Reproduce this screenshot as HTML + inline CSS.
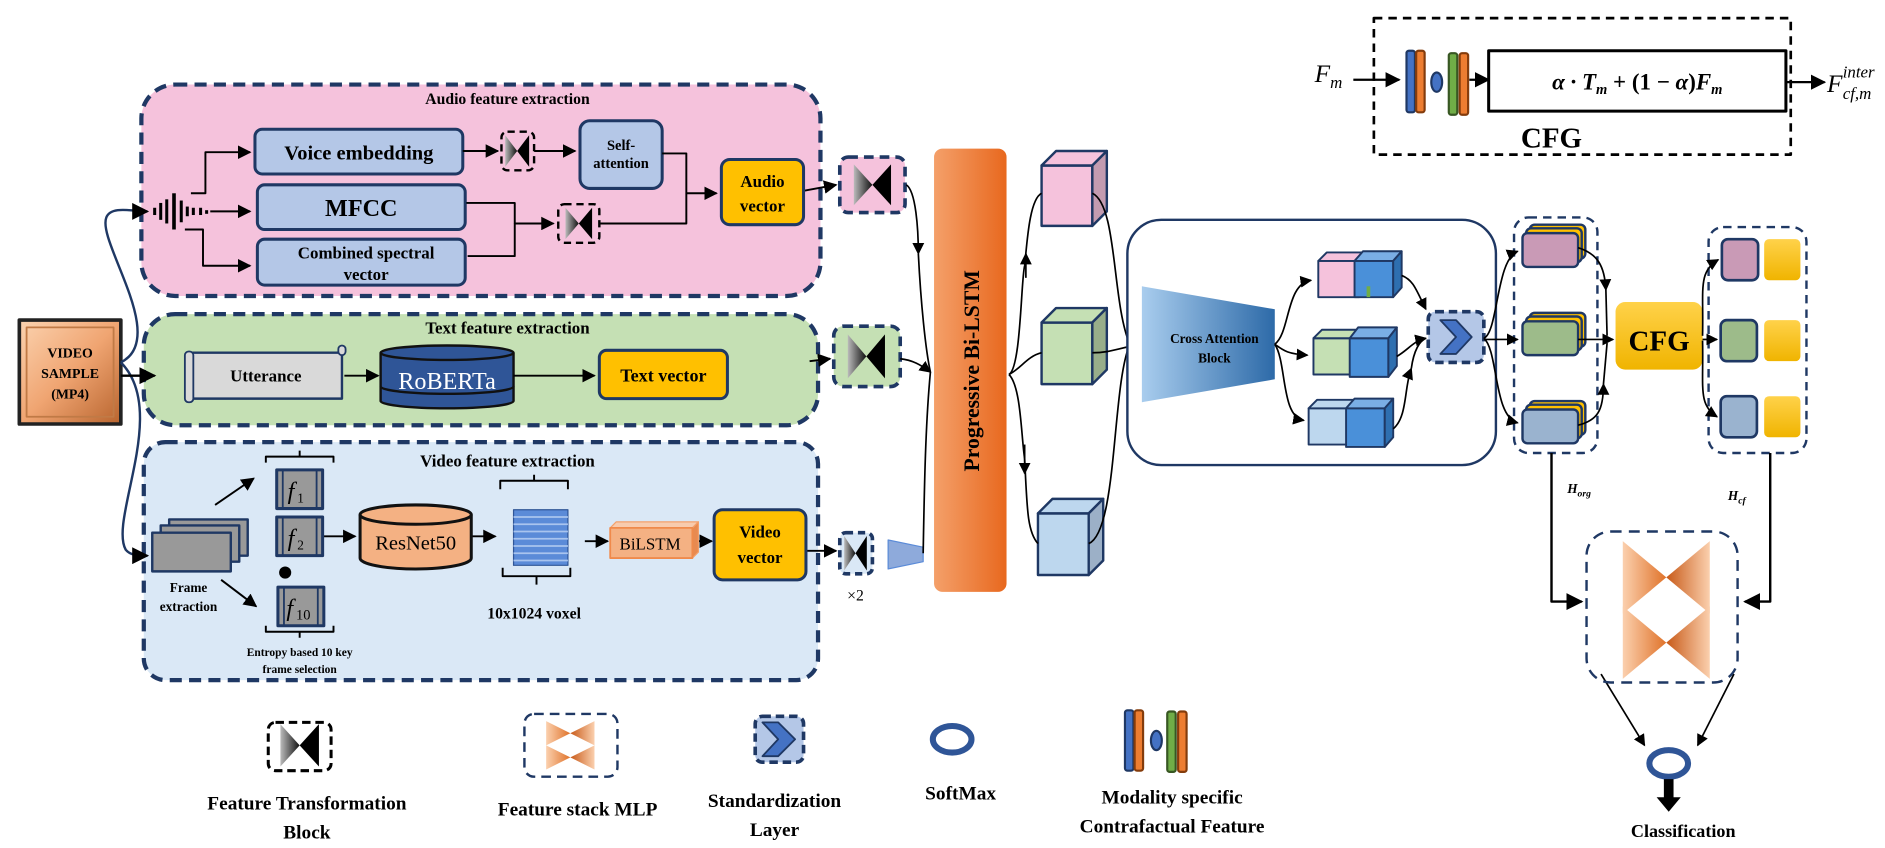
<!DOCTYPE html>
<html><head><meta charset="utf-8"><style>
html,body{margin:0;padding:0;background:#fff;}
svg{display:block;}
text{font-family:"Liberation Serif",serif;font-weight:bold;}
.n{font-weight:normal;}
</style></head><body>
<svg width="1885" height="848" viewBox="0 0 1560 702" preserveAspectRatio="none" xmlns="http://www.w3.org/2000/svg">
<defs>
<marker id="ar" viewBox="0 0 10 10" refX="9" refY="5" markerWidth="7" markerHeight="7" orient="auto-start-reverse"><path d="M0,0L10,5L0,10z" fill="#000"/></marker>
<linearGradient id="gtri" x1="0" x2="1"><stop offset="0" stop-color="#bbb"/><stop offset="1" stop-color="#111"/></linearGradient>
<linearGradient id="gor" x1="0" x2="1"><stop offset="0" stop-color="#f4a06a"/><stop offset="1" stop-color="#e8681e"/></linearGradient>
<linearGradient id="gvs" x1="0" x2="1" y1="0" y2="1"><stop offset="0" stop-color="#fbd3b0"/><stop offset="0.5" stop-color="#f0a572"/><stop offset="1" stop-color="#b8642e"/></linearGradient>
<linearGradient id="gca" x1="0" x2="1"><stop offset="0" stop-color="#a9cdee"/><stop offset="1" stop-color="#2d6aa8"/></linearGradient>
<linearGradient id="gml" x1="0" x2="1"><stop offset="0" stop-color="#fbd0ae"/><stop offset="1" stop-color="#e0732a"/></linearGradient>
<linearGradient id="gml2" x1="1" x2="0"><stop offset="0" stop-color="#fbd0ae"/><stop offset="1" stop-color="#c85a18"/></linearGradient>
<linearGradient id="gy" x1="0" x2="0" y1="0" y2="1"><stop offset="0" stop-color="#ffd24a"/><stop offset="1" stop-color="#f0b400"/></linearGradient>
<g id="bow"><path d="M-11,-13L0,0L-11,13z" fill="url(#gtri)"/><path d="M11,-13L0,0L11,13z" fill="#000"/></g>
</defs>
<g stroke-linejoin="round">
<rect x="117" y="70" width="562" height="175" rx="28" fill="#f5c2dc" stroke="#1f3864" stroke-width="3.5" stroke-dasharray="10,6"/>
<rect x="119" y="260" width="558" height="92" rx="26" fill="#c5e0b4" stroke="#1f3864" stroke-width="3.5" stroke-dasharray="10,6"/>
<rect x="119" y="366" width="558" height="197" rx="18" fill="#dae8f6" stroke="#1f3864" stroke-width="3.5" stroke-dasharray="10,6"/>
<text x="420" y="86" font-size="13" text-anchor="middle">Audio feature extraction</text>
<text x="420" y="276" font-size="14" text-anchor="middle">Text feature extraction</text>
<text x="420" y="386" font-size="14" text-anchor="middle">Video feature extraction</text>

<rect x="16" y="265" width="84" height="86" fill="url(#gvs)" stroke="#222" stroke-width="3"/>
<rect x="22" y="271" width="72" height="74" fill="none" stroke="#c07a46" stroke-width="1.5"/>
<text x="58" y="296" font-size="11.5" text-anchor="middle">VIDEO</text>
<text x="58" y="313" font-size="11.5" text-anchor="middle">SAMPLE</text>
<text x="58" y="330" font-size="11.5" text-anchor="middle">(MP4)</text>
<g fill="none" stroke="#1f3864" stroke-width="2">
<path d="M100,300 C140,280 80,200 88,180 C92,170 110,175 122,175" marker-end="url(#ar)"/>
<path d="M100,300 C140,340 90,430 104,455 C108,460 115,460 122,460" marker-end="url(#ar)"/>
</g>
<line x1="100" y1="311" x2="128" y2="311" stroke="#000" stroke-width="2" marker-end="url(#ar)"/>

<g fill="#b4c7e7" stroke="#1f3864" stroke-width="2.5">
<rect x="211" y="107" width="172" height="37" rx="6"/>
<rect x="213" y="153" width="172" height="37" rx="6"/>
<rect x="213" y="198" width="172" height="38" rx="6"/>
<rect x="480" y="100" width="68" height="56" rx="8"/>
</g>
<text x="297" y="132" font-size="17" text-anchor="middle">Voice embedding</text>
<text x="299" y="179" font-size="20" text-anchor="middle">MFCC</text>
<text x="303" y="214" font-size="14" text-anchor="middle">Combined spectral</text>
<text x="303" y="232" font-size="14" text-anchor="middle">vector</text>
<text x="514" y="124" font-size="12" text-anchor="middle">Self-</text>
<text x="514" y="139" font-size="12" text-anchor="middle">attention</text>
<g stroke="#000" stroke-width="2.5">
<line x1="128" y1="172" x2="128" y2="178"/><line x1="133" y1="168" x2="133" y2="182"/><line x1="138" y1="165" x2="138" y2="185"/>
<line x1="144" y1="160" x2="144" y2="190" stroke-width="3"/><line x1="150" y1="166" x2="150" y2="184"/><line x1="155" y1="171" x2="155" y2="179"/>
<line x1="160" y1="172" x2="160" y2="178"/><line x1="166" y1="172" x2="166" y2="178"/><line x1="171" y1="174" x2="171" y2="177"/>
</g>
<g fill="none" stroke="#000" stroke-width="1.6">
<line x1="174" y1="175" x2="207" y2="175" marker-end="url(#ar)"/>
<path d="M158,160 L170,160 L170,126 L207,126" marker-end="url(#ar)"/>
<path d="M153,190 L168,190 L168,220 L207,220" marker-end="url(#ar)"/>
<line x1="383" y1="125" x2="412" y2="125" marker-end="url(#ar)"/>
<line x1="442" y1="125" x2="476" y2="125" marker-end="url(#ar)"/>
<path d="M386,168 L426,168 L426,185 L458,185" marker-end="url(#ar)"/>
<path d="M387,212 L426,212 L426,185"/>
<path d="M548,127 L568,127 L568,160 L593,160" marker-end="url(#ar)"/>
<path d="M497,185 L568,185 L568,160"/>
<line x1="665" y1="158" x2="692" y2="153" marker-end="url(#ar)"/>
</g>
<rect x="415" y="109" width="27" height="32" rx="5" fill="#f5c2dc" stroke="#000" stroke-width="2" stroke-dasharray="6,4"/>
<use href="#bow" transform="translate(428,125) scale(0.9,1)"/>
<rect x="462" y="169" width="34" height="32" rx="5" fill="#f5c2dc" stroke="#000" stroke-width="2" stroke-dasharray="6,4"/>
<use href="#bow" transform="translate(479,185)"/>
<rect x="597" y="132" width="68" height="54" rx="7" fill="#ffc000" stroke="#1f3864" stroke-width="2.5"/>
<text x="631" y="155" font-size="14" text-anchor="middle">Audio</text>
<text x="631" y="175" font-size="14" text-anchor="middle">vector</text>
<rect x="695" y="130" width="54" height="46" rx="7" fill="#f5c2dc" stroke="#1f3864" stroke-width="3" stroke-dasharray="8,5"/>
<use href="#bow" transform="translate(722,153) scale(1.4,1.3)"/>

<path d="M157,292 L283,292 L283,330 L157,330 z" fill="#d9d9d9" stroke="#1f3864" stroke-width="2"/>
<rect x="153" y="291" width="7" height="42" rx="3" fill="#d9d9d9" stroke="#1f3864" stroke-width="1.5"/>
<rect x="280" y="286" width="6" height="8" rx="3" fill="#d9d9d9" stroke="#1f3864" stroke-width="1.5"/>
<text x="220" y="316" font-size="14" text-anchor="middle">Utterance</text>
<path d="M315,292 L315,332 A55,6 0 0 0 425,332 L425,292" fill="#2f5597" stroke="#111" stroke-width="2"/>
<ellipse cx="370" cy="292" rx="55" ry="6" fill="#2f5597" stroke="#111" stroke-width="2"/>
<path d="M315,320 A55,6 0 0 0 425,320" fill="none" stroke="#111" stroke-width="2"/>
<text x="370" y="322" font-size="20" text-anchor="middle" fill="#fff" class="n">RoBERTa</text>
<rect x="496" y="290" width="106" height="40" rx="6" fill="#ffc000" stroke="#1f3864" stroke-width="2.5"/>
<text x="549" y="316" font-size="15" text-anchor="middle">Text vector</text>
<g stroke="#000" stroke-width="1.6" fill="none">
<line x1="285" y1="311" x2="313" y2="311" marker-end="url(#ar)"/>
<line x1="425" y1="311" x2="492" y2="311" marker-end="url(#ar)"/>
<line x1="670" y1="299" x2="687" y2="297" marker-end="url(#ar)"/>
</g>
<rect x="690" y="270" width="55" height="50" rx="8" fill="#c5e0b4" stroke="#1f3864" stroke-width="3" stroke-dasharray="8,5"/>
<use href="#bow" transform="translate(717,295) scale(1.4,1.4)"/>

<g fill="#999" stroke="#1f3864" stroke-width="2">
<rect x="140" y="430" width="65" height="30"/><rect x="133" y="435" width="65" height="30"/><rect x="126" y="441" width="65" height="32"/>
</g>
<text x="156" y="490" font-size="11" text-anchor="middle">Frame</text>
<text x="156" y="506" font-size="11" text-anchor="middle">extraction</text>
<g stroke="#000" stroke-width="1.6" fill="none">
<line x1="178" y1="418" x2="210" y2="396" marker-end="url(#ar)"/>
<line x1="183" y1="480" x2="212" y2="502" marker-end="url(#ar)"/>
<line x1="268" y1="444" x2="294" y2="444" marker-end="url(#ar)"/>
<line x1="390" y1="444" x2="410" y2="444" marker-end="url(#ar)"/>
<line x1="484" y1="448" x2="503" y2="448" marker-end="url(#ar)"/>
<line x1="578" y1="448" x2="589" y2="448" marker-end="url(#ar)"/>
<line x1="667" y1="456" x2="692" y2="456" marker-end="url(#ar)"/>
<path d="M220,383 L220,378 L276,378 L276,383 M248,378 L248,373"/>
<path d="M220,518 L220,523 L276,523 L276,518 M248,523 L248,528"/>
<path d="M414,405 L414,398 L470,398 L470,405 M442,398 L442,393"/>
<path d="M416,470 L416,477 L472,477 L472,470 M444,477 L444,484"/>
</g>
<g fill="#999" stroke="#1f3864" stroke-width="2.5">
<rect x="229" y="389" width="38" height="32"/><rect x="229" y="428" width="38" height="32"/><rect x="230" y="486" width="38" height="32"/>
</g>
<g stroke="#1f3864" stroke-width="1.5"><line x1="234" y1="389" x2="234" y2="421"/><line x1="262" y1="389" x2="262" y2="421"/><line x1="234" y1="428" x2="234" y2="460"/><line x1="262" y1="428" x2="262" y2="460"/><line x1="235" y1="486" x2="235" y2="518"/><line x1="263" y1="486" x2="263" y2="518"/></g>
<text x="238" y="413" font-size="20" font-style="italic" class="n">f</text><text x="246" y="416" font-size="11" class="n">1</text>
<text x="238" y="452" font-size="20" font-style="italic" class="n">f</text><text x="246" y="455" font-size="11" class="n">2</text>
<text x="237" y="510" font-size="20" font-style="italic" class="n">f</text><text x="245" y="513" font-size="12" class="n">10</text>
<circle cx="236" cy="474" r="5" fill="#000"/>
<text x="248" y="543" font-size="9.5" text-anchor="middle">Entropy based 10 key</text>
<text x="248" y="557" font-size="9.5" text-anchor="middle">frame selection</text>
<path d="M298,426 L298,462 A46,9 0 0 0 390,462 L390,426" fill="#f4b183" stroke="#111" stroke-width="2.5"/>
<ellipse cx="344" cy="426" rx="46" ry="8" fill="#f4b183" stroke="#111" stroke-width="2.5"/>
<text x="344" y="455" font-size="17" text-anchor="middle" class="n">ResNet50</text>
<rect x="425" y="422" width="45" height="46" fill="#5b8bd8" stroke="#2f5597"/>
<g stroke="#a9c4ee" stroke-width="1.5"><line x1="425" y1="428" x2="470" y2="428"/><line x1="425" y1="434" x2="470" y2="434"/><line x1="425" y1="440" x2="470" y2="440"/><line x1="425" y1="446" x2="470" y2="446"/><line x1="425" y1="452" x2="470" y2="452"/><line x1="425" y1="458" x2="470" y2="458"/><line x1="425" y1="464" x2="470" y2="464"/></g>
<text x="442" y="512" font-size="13" text-anchor="middle">10x1024 voxel</text>
<path d="M505,437 L510,432 L578,432 L573,437z" fill="#f8cbad" stroke="#f4a06a"/>
<path d="M573,437 L578,432 L578,457 L573,462z" fill="#e88a50" stroke="#f4a06a"/>
<rect x="505" y="437" width="68" height="25" fill="#f4b183" stroke="#f08a4b" stroke-width="1.5"/>
<text x="538" y="455" font-size="14" text-anchor="middle" class="n">BiLSTM</text>
<rect x="591" y="422" width="76" height="58" rx="7" fill="#ffc000" stroke="#1f3864" stroke-width="2.5"/>
<text x="629" y="445" font-size="14" text-anchor="middle">Video</text>
<text x="629" y="466" font-size="14" text-anchor="middle">vector</text>
<rect x="695" y="441" width="27" height="34" rx="5" fill="#dae8f6" stroke="#1f3864" stroke-width="3" stroke-dasharray="6,4"/>
<use href="#bow" transform="translate(708,458) scale(0.85,1.1)"/>
<path d="M735,447 L764,453 L764,465 L735,471z" fill="#8eaadb" stroke="#5b8bd8"/>
<text x="708" y="497" font-size="13" text-anchor="middle" class="n">×2</text>

<g stroke="#000" stroke-width="1.4" fill="none">
<path d="M750,153 C758,158 760,190 760,210" marker-end="url(#ar)"/>
<path d="M760,210 C762,250 766,290 770,308"/>
<path d="M745,297 C755,298 762,302 770,308" marker-end="url(#ar)"/>
<path d="M764,458 C765,400 766,350 770,308"/>
</g>
<rect x="773" y="123" width="60" height="367" rx="7" fill="url(#gor)"/>
<text transform="translate(810,307) rotate(-90)" font-size="18" text-anchor="middle">Progressive Bi-LSTM</text>

<g stroke="#1f3864" stroke-width="2">
<rect x="862" y="137" width="42" height="50" fill="#f5c2dc"/><path d="M862,137 L874,125 L916,125 L904,137z" fill="#f5c2dc"/><path d="M904,137 L916,125 L916,175 L904,187z" fill="#c39bb0"/>
<rect x="862" y="267" width="42" height="51" fill="#c5e0b4"/><path d="M862,267 L874,255 L916,255 L904,267z" fill="#c5e0b4"/><path d="M904,267 L916,255 L916,306 L904,318z" fill="#98ae8a"/>
<rect x="859" y="425" width="42" height="51" fill="#bdd7ee"/><path d="M859,425 L871,413 L913,413 L901,425z" fill="#bdd7ee"/><path d="M901,425 L913,413 L913,464 L901,476z" fill="#9cb0c7"/>
</g>
<g stroke="#000" stroke-width="1.4" fill="none">
<path d="M835,310 C845,305 845,230 848,220 C850,200 852,165 862,160"/>
<line x1="849" y1="230" x2="849" y2="210" marker-end="url(#ar)"/>
<path d="M835,310 C845,305 850,295 862,292"/>
<path d="M835,310 C845,320 845,360 848,380 C850,420 850,440 859,450"/>
<line x1="848" y1="368" x2="848" y2="392" marker-end="url(#ar)"/>
<path d="M904,160 C925,170 920,250 935,285"/>
<path d="M904,292 C920,292 925,288 945,285"/>
<path d="M901,450 C925,440 920,320 935,285"/>
</g>

<rect x="933" y="182" width="305" height="203" rx="28" fill="#fff" stroke="#1f3864" stroke-width="2"/>
<path d="M945,237 L1055,256 L1055,314 L945,333z" fill="url(#gca)"/>
<text x="1005" y="284" font-size="11" text-anchor="middle">Cross Attention</text>
<text x="1005" y="300" font-size="11" text-anchor="middle">Block</text>
<g stroke="#1f3864" stroke-width="1.6">
<rect x="1091" y="216" width="34" height="30" fill="#f5c2dc"/><path d="M1091,216 L1098,209 L1132,209 L1125,216z" fill="#f5c2dc"/>
<rect x="1121" y="216" width="32" height="30" fill="#4a90d9"/><path d="M1121,216 L1128,208 L1160,208 L1153,216z" fill="#7aaee5"/><path d="M1153,216 L1160,208 L1160,238 L1153,246z" fill="#2e6fb0"/>
<rect x="1087" y="280" width="34" height="30" fill="#c5e0b4"/><path d="M1087,280 L1094,273 L1128,273 L1121,280z" fill="#c5e0b4"/>
<rect x="1117" y="280" width="32" height="32" fill="#4a90d9"/><path d="M1117,280 L1124,271 L1156,271 L1149,280z" fill="#7aaee5"/><path d="M1149,280 L1156,271 L1156,303 L1149,312z" fill="#2e6fb0"/>
<rect x="1083" y="338" width="34" height="30" fill="#bdd7ee"/><path d="M1083,338 L1090,331 L1124,331 L1117,338z" fill="#bdd7ee"/>
<rect x="1114" y="338" width="32" height="32" fill="#4a90d9"/><path d="M1114,338 L1121,330 L1153,330 L1146,338z" fill="#7aaee5"/><path d="M1146,338 L1153,330 L1153,362 L1146,370z" fill="#2e6fb0"/>
</g>
<rect x="1131" y="237" width="3" height="9" fill="#70ad47"/>
<g stroke="#000" stroke-width="1.4" fill="none">
<path d="M1055,285 C1068,275 1064,235 1085,232" marker-end="url(#ar)"/>
<path d="M1055,285 C1062,290 1065,293 1082,294" marker-end="url(#ar)"/>
<path d="M1055,285 C1065,300 1060,345 1079,348" marker-end="url(#ar)"/>
<path d="M1160,228 C1170,232 1172,240 1180,256" marker-end="url(#ar)"/>
<path d="M1156,295 C1165,290 1170,282 1180,280" marker-end="url(#ar)"/>
<path d="M1153,355 C1165,345 1162,320 1168,305" marker-end="url(#ar)"/>
<path d="M1168,305 C1170,290 1175,282 1180,280"/>
</g>
<rect x="1182" y="258" width="46" height="42" rx="6" fill="#b4c7e7" stroke="#1f3864" stroke-width="3" stroke-dasharray="7,4"/>
<path d="M1192,265 L1205,265 L1218,279 L1205,293 L1192,293 L1205,279z" fill="#4472c4" stroke="#1f3864" stroke-width="1.5"/>

<rect x="1253" y="180" width="69" height="195" rx="12" fill="none" stroke="#1f3864" stroke-width="2" stroke-dasharray="7,5"/>
<g stroke="#1f3864" stroke-width="2">
<rect x="1266" y="186" width="46" height="28" rx="4" fill="#ffc000"/><rect x="1263" y="189" width="46" height="28" rx="4" fill="#ffc000"/><rect x="1260" y="193" width="46" height="28" rx="4" fill="#c99ab6"/>
<rect x="1266" y="259" width="46" height="28" rx="4" fill="#ffc000"/><rect x="1263" y="262" width="46" height="28" rx="4" fill="#ffc000"/><rect x="1260" y="266" width="46" height="28" rx="4" fill="#9dbb8a"/>
<rect x="1266" y="332" width="46" height="28" rx="4" fill="#ffc000"/><rect x="1263" y="335" width="46" height="28" rx="4" fill="#ffc000"/><rect x="1260" y="339" width="46" height="28" rx="4" fill="#9ab3cf"/>
</g>
<g stroke="#000" stroke-width="1.4" fill="none">
<path d="M1228,280 C1240,275 1238,215 1256,208" marker-end="url(#ar)"/>
<line x1="1228" y1="281" x2="1256" y2="281" marker-end="url(#ar)"/>
<path d="M1228,280 C1240,290 1236,345 1256,350" marker-end="url(#ar)"/>
<path d="M1306,205 C1322,210 1328,220 1329,240" marker-end="url(#ar)"/>
<path d="M1329,240 L1330,278"/>
<line x1="1306" y1="281" x2="1335" y2="281" marker-end="url(#ar)"/>
<path d="M1306,352 C1322,348 1327,340 1327,318" marker-end="url(#ar)"/>
<path d="M1327,318 L1330,284"/>
</g>
<rect x="1337" y="250" width="72" height="56" rx="8" fill="url(#gy)"/>
<text x="1373" y="290" font-size="24" text-anchor="middle">CFG</text>
<rect x="1414" y="188" width="81" height="187" rx="12" fill="none" stroke="#1f3864" stroke-width="2" stroke-dasharray="7,5"/>
<g stroke="#1f3864" stroke-width="2.2">
<rect x="1425" y="198" width="30" height="34" rx="5" fill="#c99ab6"/>
<rect x="1424" y="265" width="30" height="34" rx="5" fill="#9dbb8a"/>
<rect x="1424" y="328" width="30" height="34" rx="5" fill="#9ab3cf"/>
</g>
<rect x="1460" y="198" width="30" height="34" rx="4" fill="url(#gy)"/>
<rect x="1460" y="265" width="30" height="34" rx="4" fill="url(#gy)"/>
<rect x="1460" y="328" width="30" height="34" rx="4" fill="url(#gy)"/>
<g stroke="#000" stroke-width="1.4" fill="none">
<path d="M1409,278 C1410,240 1405,225 1422,215" marker-end="url(#ar)"/>
<line x1="1409" y1="281" x2="1421" y2="281" marker-end="url(#ar)"/>
<path d="M1409,282 C1410,320 1405,335 1421,345" marker-end="url(#ar)"/>
</g>
<text x="1297" y="408" font-size="11" font-style="italic">H<tspan font-size="8" dy="3">org</tspan></text>
<text x="1430" y="414" font-size="11" font-style="italic">H<tspan font-size="8" dy="3">cf</tspan></text>
<g stroke="#000" stroke-width="2" fill="none">
<path d="M1284,375 L1284,498 L1309,498" marker-end="url(#ar)"/>
<path d="M1465,375 L1465,498 L1444,498" marker-end="url(#ar)"/>
<line x1="1325" y1="558" x2="1361" y2="617" stroke-width="1.4" marker-end="url(#ar)"/>
<line x1="1435" y1="558" x2="1405" y2="617" stroke-width="1.4" marker-end="url(#ar)"/>
</g>
<rect x="1313" y="440" width="125" height="125" rx="20" fill="none" stroke="#1f3864" stroke-width="2" stroke-dasharray="9,6"/>
<g transform="translate(1343,448)"><path d="M0,0L36,30L0,60z" fill="url(#gml)"/><path d="M72,0L36,30L72,60z" fill="url(#gml2)"/></g>
<g transform="translate(1343,502)"><path d="M0,0L36,30L0,60z" fill="url(#gml)"/><path d="M72,0L36,30L72,60z" fill="url(#gml2)"/></g>
<ellipse cx="1381" cy="632" rx="16" ry="11" fill="#fff" stroke="#2f5597" stroke-width="5"/>
<path d="M1377,645 L1385,645 L1385,660 L1391,660 L1381,672 L1371,660 L1377,660z" fill="#000"/>
<text x="1393" y="693" font-size="15" text-anchor="middle">Classification</text>

<rect x="1137" y="15" width="345" height="113" fill="none" stroke="#000" stroke-width="2.2" stroke-dasharray="7,5"/>
<text x="1088" y="68" font-size="21" font-style="italic" class="n">F<tspan font-size="14" dy="5">m</tspan></text>
<g stroke="#000" stroke-width="1.8"><line x1="1120" y1="66" x2="1158" y2="66" marker-end="url(#ar)"/><line x1="1216" y1="66" x2="1232" y2="66" marker-end="url(#ar)"/><line x1="1478" y1="68" x2="1510" y2="68" marker-end="url(#ar)"/></g>
<g stroke-width="1.8">
<rect x="1164" y="42" width="7" height="51" rx="2" fill="#4472c4" stroke="#1f3864"/>
<rect x="1172" y="42" width="7" height="51" rx="2" fill="#ed7d31" stroke="#843c0c"/>
<ellipse cx="1189" cy="68" rx="4.5" ry="8" fill="#4472c4" stroke="#1f3864"/>
<rect x="1199" y="44" width="7" height="51" rx="2" fill="#70ad47" stroke="#385723"/>
<rect x="1208" y="44" width="7" height="51" rx="2" fill="#ed7d31" stroke="#843c0c"/>
</g>
<rect x="1232" y="42" width="246" height="50" fill="#fff" stroke="#000" stroke-width="2.5"/>
<text x="1355" y="74" font-size="19" text-anchor="middle" font-style="italic">α · T<tspan font-size="12" dy="4">m</tspan><tspan dy="-4" font-style="normal"> + (1 − </tspan>α<tspan font-style="normal">)</tspan>F<tspan font-size="12" dy="4">m</tspan></text>
<text x="1284" y="122" font-size="24" text-anchor="middle">CFG</text>
<text x="1512" y="76" font-size="21" font-style="italic" class="n">F</text>
<text x="1525" y="64" font-size="14" font-style="italic" class="n">inter</text>
<text x="1525" y="82" font-size="14" font-style="italic" class="n">cf,m</text>

<rect x="222" y="598" width="52" height="40" rx="6" fill="#fff" stroke="#000" stroke-width="2.5" stroke-dasharray="7,4"/>
<use href="#bow" transform="translate(248,617) scale(1.45,1.35)"/>
<text x="254" y="670" font-size="16" text-anchor="middle">Feature Transformation</text>
<text x="254" y="694" font-size="16" text-anchor="middle">Block</text>
<rect x="434" y="591" width="77" height="52" rx="8" fill="#fff" stroke="#1f3864" stroke-width="2" stroke-dasharray="8,5"/>
<g transform="translate(452,597)"><path d="M0,0L20,10L0,20z" fill="url(#gml)"/><path d="M40,0L20,10L40,20z" fill="url(#gml2)"/><path d="M0,20L20,30L0,40z" fill="url(#gml)"/><path d="M40,20L20,30L40,40z" fill="url(#gml2)"/></g>
<text x="478" y="675" font-size="16" text-anchor="middle">Feature stack MLP</text>
<rect x="625" y="593" width="40" height="38" rx="6" fill="#b4c7e7" stroke="#1f3864" stroke-width="3" stroke-dasharray="7,4"/>
<path d="M631,598 L644,598 L658,612 L644,626 L631,626 L644,612z" fill="#4472c4" stroke="#1f3864" stroke-width="1.5"/>
<text x="641" y="668" font-size="16" text-anchor="middle">Standardization</text>
<text x="641" y="692" font-size="16" text-anchor="middle">Layer</text>
<ellipse cx="788" cy="612" rx="16" ry="11" fill="#fff" stroke="#2f5597" stroke-width="5"/>
<text x="795" y="662" font-size="16" text-anchor="middle">SoftMax</text>
<g stroke-width="1.8">
<rect x="931" y="588" width="7" height="50" rx="2" fill="#4472c4" stroke="#1f3864"/>
<rect x="939" y="588" width="7" height="50" rx="2" fill="#ed7d31" stroke="#843c0c"/>
<ellipse cx="957" cy="613" rx="4.5" ry="8" fill="#4472c4" stroke="#1f3864"/>
<rect x="966" y="589" width="7" height="50" rx="2" fill="#70ad47" stroke="#385723"/>
<rect x="975" y="589" width="7" height="50" rx="2" fill="#ed7d31" stroke="#843c0c"/>
</g>
<text x="970" y="665" font-size="16" text-anchor="middle">Modality specific</text>
<text x="970" y="689" font-size="16" text-anchor="middle">Contrafactual Feature</text>
</g>
</svg>
</body></html>
